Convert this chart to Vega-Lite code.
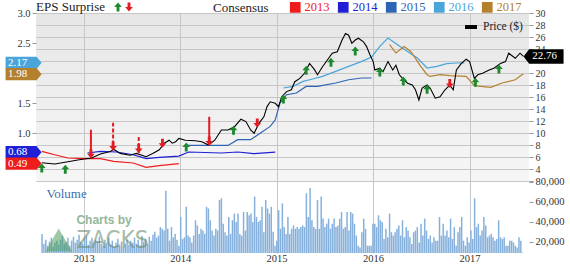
{
  "$schema": "https://vega.github.io/schema/vega-lite/v6.json",
  "width": 493,
  "height": 240,
  "autosize": {"type": "none"},
  "padding": {"left": 36, "top": 13, "right": 41, "bottom": 11},
  "background": "#ffffff",
  "view": {"stroke": null, "fill": {"gradient": "linear", "x1": 0, "y1": 0, "x2": 0, "y2": 1, "stops": [{"offset": 0, "color": "#e6e6e6"}, {"offset": 0.704, "color": "#f6f6f6"}, {"offset": 0.706, "color": "#ffffff"}, {"offset": 1, "color": "#ffffff"}]}},
  "config": {
    "font": "Liberation Serif",
    "axis": {"labelFont": "Liberation Serif", "labelFontSize": 10.5, "labelColor": "#333333", "tickColor": "#999999", "domain": false, "gridColor": "#c6c6c6", "titleFont": "Liberation Serif", "labelOverlap": false, "labelBound": false},
    "legend": {"labelFont": "Liberation Serif", "titleFont": "Liberation Serif", "titleFontWeight": "normal", "padding": 0}
  },
  "datasets": {
    "price": [
      {"date": "2012-07-26", "price": 5.05}, {"date": "2012-09-13", "price": 4.83}, {"date": "2012-11-02", "price": 5.2}, {"date": "2012-12-09", "price": 5.5},
      {"date": "2013-01-03", "price": 5.67}, {"date": "2013-01-28", "price": 5.8}, {"date": "2013-03-05", "price": 6.5}, {"date": "2013-04-11", "price": 6.9},
      {"date": "2013-04-24", "price": 7.3}, {"date": "2013-05-19", "price": 6.6}, {"date": "2013-06-25", "price": 6.3}, {"date": "2013-07-19", "price": 6.6},
      {"date": "2013-08-25", "price": 6.05}, {"date": "2013-09-19", "price": 6.6}, {"date": "2013-10-14", "price": 7.2}, {"date": "2013-11-02", "price": 8.3},
      {"date": "2013-11-20", "price": 8.8}, {"date": "2013-12-02", "price": 8.3}, {"date": "2013-12-15", "price": 8.55}, {"date": "2013-12-27", "price": 9.1},
      {"date": "2014-01-21", "price": 8.8}, {"date": "2014-02-27", "price": 8.7}, {"date": "2014-03-24", "price": 8.55}, {"date": "2014-04-18", "price": 8.0},
      {"date": "2014-05-12", "price": 8.8}, {"date": "2014-06-06", "price": 10.5}, {"date": "2014-07-01", "price": 10.5}, {"date": "2014-07-26", "price": 11.05},
      {"date": "2014-08-19", "price": 12.3}, {"date": "2014-09-07", "price": 11.9}, {"date": "2014-09-25", "price": 10.5}, {"date": "2014-10-08", "price": 9.95},
      {"date": "2014-10-26", "price": 11.6}, {"date": "2014-11-14", "price": 12.7}, {"date": "2014-11-26", "price": 14.4}, {"date": "2014-12-08", "price": 15.2},
      {"date": "2014-12-27", "price": 14.95}, {"date": "2015-01-08", "price": 14.4}, {"date": "2015-01-21", "price": 16.05}, {"date": "2015-02-08", "price": 16.9},
      {"date": "2015-02-26", "price": 17.2}, {"date": "2015-03-11", "price": 18.55}, {"date": "2015-03-30", "price": 19.1}, {"date": "2015-04-17", "price": 19.95},
      {"date": "2015-05-06", "price": 21.6}, {"date": "2015-05-24", "price": 20.6}, {"date": "2015-06-05", "price": 19.7}, {"date": "2015-06-24", "price": 21.05},
      {"date": "2015-07-13", "price": 22.2}, {"date": "2015-07-31", "price": 23.3}, {"date": "2015-08-19", "price": 23.55}, {"date": "2015-09-06", "price": 25.5},
      {"date": "2015-09-19", "price": 26.6}, {"date": "2015-10-01", "price": 26.3}, {"date": "2015-10-13", "price": 24.95}, {"date": "2015-10-26", "price": 25.5},
      {"date": "2015-11-07", "price": 25.8}, {"date": "2015-11-26", "price": 25.2}, {"date": "2015-12-08", "price": 24.4}, {"date": "2015-12-21", "price": 23.0},
      {"date": "2016-01-02", "price": 21.9}, {"date": "2016-01-08", "price": 20.5}, {"date": "2016-01-27", "price": 20.8}, {"date": "2016-02-08", "price": 20.2},
      {"date": "2016-02-27", "price": 21.9}, {"date": "2016-03-16", "price": 20.5}, {"date": "2016-03-28", "price": 21.3}, {"date": "2016-04-10", "price": 19.7},
      {"date": "2016-04-22", "price": 19.1}, {"date": "2016-05-11", "price": 18.3}, {"date": "2016-05-29", "price": 18.0}, {"date": "2016-06-10", "price": 17.2},
      {"date": "2016-06-23", "price": 15.5}, {"date": "2016-07-05", "price": 17.5}, {"date": "2016-07-24", "price": 18.0}, {"date": "2016-08-05", "price": 17.45},
      {"date": "2016-08-24", "price": 15.8}, {"date": "2016-09-11", "price": 16.05}, {"date": "2016-09-30", "price": 17.2}, {"date": "2016-10-18", "price": 18.0},
      {"date": "2016-10-31", "price": 17.2}, {"date": "2016-11-12", "price": 20.5}, {"date": "2016-12-01", "price": 21.6}, {"date": "2016-12-19", "price": 22.3},
      {"date": "2017-01-01", "price": 21.9}, {"date": "2017-01-19", "price": 19.1}, {"date": "2017-02-01", "price": 19.7}, {"date": "2017-02-19", "price": 19.95},
      {"date": "2017-03-16", "price": 20.5}, {"date": "2017-04-03", "price": 20.8}, {"date": "2017-04-28", "price": 21.6}, {"date": "2017-05-17", "price": 21.9},
      {"date": "2017-05-29", "price": 23.3}, {"date": "2017-06-23", "price": 22.45}, {"date": "2017-07-11", "price": 23.3}, {"date": "2017-07-24", "price": 22.76}
    ],
    "lastprice": [{"price": 22.76}],
    "consensus": [
      {"series": "2013", "date": "2012-07-26", "eps": 0.693}, {"series": "2013", "date": "2012-09-13", "eps": 0.638}, {"series": "2013", "date": "2012-11-02", "eps": 0.583},
      {"series": "2013", "date": "2013-01-03", "eps": 0.572}, {"series": "2013", "date": "2013-03-05", "eps": 0.572}, {"series": "2013", "date": "2013-04-24", "eps": 0.527},
      {"series": "2013", "date": "2013-07-07", "eps": 0.5}, {"series": "2013", "date": "2013-08-25", "eps": 0.427}, {"series": "2013", "date": "2013-10-14", "eps": 0.455},
      {"series": "2013", "date": "2013-12-27", "eps": 0.49},
      {"series": "2014", "date": "2013-01-15", "eps": 0.667}, {"series": "2014", "date": "2013-03-05", "eps": 0.693}, {"series": "2014", "date": "2013-05-06", "eps": 0.683},
      {"series": "2014", "date": "2013-07-07", "eps": 0.638}, {"series": "2014", "date": "2013-08-25", "eps": 0.572}, {"series": "2014", "date": "2013-10-14", "eps": 0.593},
      {"series": "2014", "date": "2013-12-27", "eps": 0.615}, {"series": "2014", "date": "2014-02-02", "eps": 0.683}, {"series": "2014", "date": "2014-06-06", "eps": 0.667},
      {"series": "2014", "date": "2014-08-07", "eps": 0.683}, {"series": "2014", "date": "2014-10-07", "eps": 0.655}, {"series": "2014", "date": "2014-12-27", "eps": 0.68},
      {"series": "2015", "date": "2014-01-21", "eps": 0.793}, {"series": "2015", "date": "2014-07-01", "eps": 0.793}, {"series": "2015", "date": "2014-08-07", "eps": 0.888},
      {"series": "2015", "date": "2014-09-25", "eps": 0.888}, {"series": "2015", "date": "2014-11-01", "eps": 1.0}, {"series": "2015", "date": "2014-12-08", "eps": 1.11},
      {"series": "2015", "date": "2014-12-27", "eps": 1.22}, {"series": "2015", "date": "2015-01-14", "eps": 1.5}, {"series": "2015", "date": "2015-02-08", "eps": 1.638},
      {"series": "2015", "date": "2015-03-17", "eps": 1.667}, {"series": "2015", "date": "2015-04-23", "eps": 1.777}, {"series": "2015", "date": "2015-06-05", "eps": 1.777},
      {"series": "2015", "date": "2015-08-13", "eps": 1.833}, {"series": "2015", "date": "2015-10-01", "eps": 1.888}, {"series": "2015", "date": "2015-11-20", "eps": 1.917},
      {"series": "2015", "date": "2015-12-27", "eps": 1.917},
      {"series": "2016", "date": "2015-01-27", "eps": 1.75}, {"series": "2016", "date": "2015-03-05", "eps": 1.777}, {"series": "2016", "date": "2015-04-11", "eps": 1.86},
      {"series": "2016", "date": "2015-05-18", "eps": 1.9}, {"series": "2016", "date": "2015-06-24", "eps": 1.943}, {"series": "2016", "date": "2015-08-13", "eps": 2.027},
      {"series": "2016", "date": "2015-10-01", "eps": 2.11}, {"series": "2016", "date": "2015-11-20", "eps": 2.193}, {"series": "2016", "date": "2015-12-27", "eps": 2.267},
      {"series": "2016", "date": "2016-01-27", "eps": 2.443}, {"series": "2016", "date": "2016-02-27", "eps": 2.583}, {"series": "2016", "date": "2016-04-03", "eps": 2.472},
      {"series": "2016", "date": "2016-05-11", "eps": 2.36}, {"series": "2016", "date": "2016-06-17", "eps": 2.25}, {"series": "2016", "date": "2016-07-12", "eps": 2.138},
      {"series": "2016", "date": "2016-07-24", "eps": 2.083}, {"series": "2016", "date": "2016-08-30", "eps": 2.11}, {"series": "2016", "date": "2016-10-06", "eps": 2.155},
      {"series": "2016", "date": "2016-11-12", "eps": 2.167}, {"series": "2016", "date": "2016-12-12", "eps": 2.17},
      {"series": "2017", "date": "2016-03-04", "eps": 2.472}, {"series": "2017", "date": "2016-03-28", "eps": 2.333}, {"series": "2017", "date": "2016-04-28", "eps": 2.443},
      {"series": "2017", "date": "2016-05-23", "eps": 2.36}, {"series": "2017", "date": "2016-06-30", "eps": 2.11}, {"series": "2017", "date": "2016-07-24", "eps": 1.972},
      {"series": "2017", "date": "2016-08-05", "eps": 1.943}, {"series": "2017", "date": "2016-09-11", "eps": 1.972}, {"series": "2017", "date": "2016-10-18", "eps": 1.955},
      {"series": "2017", "date": "2016-12-19", "eps": 1.943}, {"series": "2017", "date": "2017-01-19", "eps": 1.788}, {"series": "2017", "date": "2017-03-22", "eps": 1.76},
      {"series": "2017", "date": "2017-05-04", "eps": 1.833}, {"series": "2017", "date": "2017-06-23", "eps": 1.888}, {"series": "2017", "date": "2017-07-18", "eps": 1.972},
      {"series": "2017", "date": "2017-07-24", "eps": 1.98}
    ],
    "tags": [
      {"series": "2016", "eps": 2.17}, {"series": "2017", "eps": 1.98}, {"series": "2014", "eps": 0.68}, {"series": "2013", "eps": 0.49}
    ],
    "arrows": [
      {"date": "2012-07-26", "price": 4.9, "result": "beat"}, {"date": "2012-10-23", "price": 4.7, "result": "beat"},
      {"date": "2013-01-28", "price": 5.8, "result": "miss", "top": 10.55, "stem": "solid"},
      {"date": "2013-04-22", "price": 7.1, "result": "miss", "top": 11.7, "stem": "dashed"},
      {"date": "2013-07-28", "price": 6.65, "result": "miss", "top": 9.55, "stem": "dashed"},
      {"date": "2013-10-26", "price": 7.55, "result": "miss"},
      {"date": "2014-01-24", "price": 8.4, "result": "beat"},
      {"date": "2014-04-21", "price": 7.9, "result": "miss", "top": 12.7, "stem": "solid"},
      {"date": "2014-07-22", "price": 11.2, "result": "beat"},
      {"date": "2014-10-20", "price": 10.9, "result": "miss"},
      {"date": "2015-01-27", "price": 16.4, "result": "beat"}, {"date": "2015-04-23", "price": 21.2, "result": "beat"},
      {"date": "2015-07-26", "price": 22.55, "result": "beat"}, {"date": "2015-10-26", "price": 24.4, "result": "beat"},
      {"date": "2016-01-27", "price": 20.9, "result": "beat"}, {"date": "2016-04-25", "price": 19.4, "result": "beat"},
      {"date": "2016-07-24", "price": 18.05, "result": "beat"}, {"date": "2016-10-18", "price": 17.5, "result": "miss"},
      {"date": "2017-01-23", "price": 19.2, "result": "beat"}, {"date": "2017-04-22", "price": 21.4, "result": "beat"}
    ],
    "volume": [
      {"date": "2012-07-27", "volume": 27800}, {"date": "2012-08-03", "volume": 18000}, {"date": "2012-08-10", "volume": 22000}, {"date": "2012-08-17", "volume": 16000}, {"date": "2012-08-24", "volume": 20000},
      {"date": "2012-08-31", "volume": 24000}, {"date": "2012-09-07", "volume": 15000}, {"date": "2012-09-14", "volume": 19000}, {"date": "2012-09-21", "volume": 21000}, {"date": "2012-09-28", "volume": 17000},
      {"date": "2012-10-05", "volume": 22000}, {"date": "2012-10-12", "volume": 26000}, {"date": "2012-10-19", "volume": 18000}, {"date": "2012-10-26", "volume": 20000}, {"date": "2012-11-02", "volume": 24000},
      {"date": "2012-11-09", "volume": 16000}, {"date": "2012-11-16", "volume": 21000}, {"date": "2012-11-23", "volume": 25000}, {"date": "2012-11-30", "volume": 19000}, {"date": "2012-12-07", "volume": 22000},
      {"date": "2012-12-14", "volume": 27000}, {"date": "2012-12-21", "volume": 20000}, {"date": "2012-12-28", "volume": 18000}, {"date": "2013-01-04", "volume": 23000}, {"date": "2013-01-11", "volume": 26000},
      {"date": "2013-01-18", "volume": 17000}, {"date": "2013-01-25", "volume": 21000}, {"date": "2013-02-01", "volume": 24000}, {"date": "2013-02-08", "volume": 19000}, {"date": "2013-02-15", "volume": 22000},
      {"date": "2013-02-22", "volume": 20000}, {"date": "2013-03-01", "volume": 25000}, {"date": "2013-03-08", "volume": 18000}, {"date": "2013-03-15", "volume": 16000}, {"date": "2013-03-22", "volume": 22000},
      {"date": "2013-03-29", "volume": 19000}, {"date": "2013-04-05", "volume": 24000}, {"date": "2013-04-12", "volume": 17000}, {"date": "2013-04-19", "volume": 21000}, {"date": "2013-04-26", "volume": 15000},
      {"date": "2013-05-03", "volume": 19000}, {"date": "2013-05-10", "volume": 23000}, {"date": "2013-05-17", "volume": 16000}, {"date": "2013-05-24", "volume": 20000}, {"date": "2013-05-31", "volume": 14000},
      {"date": "2013-06-07", "volume": 18000}, {"date": "2013-06-14", "volume": 22000}, {"date": "2013-06-21", "volume": 17000}, {"date": "2013-06-28", "volume": 21000}, {"date": "2013-07-05", "volume": 19000},
      {"date": "2013-07-12", "volume": 24000}, {"date": "2013-07-19", "volume": 18000}, {"date": "2013-07-26", "volume": 22000}, {"date": "2013-08-02", "volume": 16000}, {"date": "2013-08-09", "volume": 26000},
      {"date": "2013-08-16", "volume": 20000}, {"date": "2013-08-23", "volume": 23000}, {"date": "2013-08-30", "volume": 18000}, {"date": "2013-09-06", "volume": 25000}, {"date": "2013-09-13", "volume": 21000},
      {"date": "2013-09-20", "volume": 27000}, {"date": "2013-09-27", "volume": 30000}, {"date": "2013-10-04", "volume": 24000}, {"date": "2013-10-11", "volume": 26100}, {"date": "2013-10-18", "volume": 34600},
      {"date": "2013-10-25", "volume": 32900}, {"date": "2013-11-01", "volume": 31200}, {"date": "2013-11-08", "volume": 70900}, {"date": "2013-11-15", "volume": 32900}, {"date": "2013-11-22", "volume": 21000},
      {"date": "2013-11-29", "volume": 34600}, {"date": "2013-12-06", "volume": 24400}, {"date": "2013-12-13", "volume": 27800}, {"date": "2013-12-20", "volume": 22000}, {"date": "2013-12-27", "volume": 16000},
      {"date": "2014-01-03", "volume": 44700}, {"date": "2014-01-10", "volume": 22700}, {"date": "2014-01-17", "volume": 24400}, {"date": "2014-01-24", "volume": 54900}, {"date": "2014-01-31", "volume": 26100},
      {"date": "2014-02-07", "volume": 24400}, {"date": "2014-02-14", "volume": 19300}, {"date": "2014-02-21", "volume": 26100}, {"date": "2014-02-28", "volume": 41400}, {"date": "2014-03-07", "volume": 36300},
      {"date": "2014-03-14", "volume": 27800}, {"date": "2014-03-21", "volume": 32900}, {"date": "2014-03-28", "volume": 31200}, {"date": "2014-04-04", "volume": 27800}, {"date": "2014-04-11", "volume": 54900},
      {"date": "2014-04-18", "volume": 53200}, {"date": "2014-04-25", "volume": 41400}, {"date": "2014-05-02", "volume": 31200}, {"date": "2014-05-09", "volume": 26100}, {"date": "2014-05-16", "volume": 32900},
      {"date": "2014-05-23", "volume": 31200}, {"date": "2014-05-30", "volume": 61700}, {"date": "2014-06-06", "volume": 63400}, {"date": "2014-06-13", "volume": 38000}, {"date": "2014-06-20", "volume": 29500},
      {"date": "2014-06-27", "volume": 26100}, {"date": "2014-07-04", "volume": 44700}, {"date": "2014-07-11", "volume": 27800}, {"date": "2014-07-18", "volume": 41400}, {"date": "2014-07-25", "volume": 48100},
      {"date": "2014-08-01", "volume": 39700}, {"date": "2014-08-08", "volume": 48100}, {"date": "2014-08-15", "volume": 27800}, {"date": "2014-08-22", "volume": 26100}, {"date": "2014-08-29", "volume": 49800},
      {"date": "2014-09-05", "volume": 31200}, {"date": "2014-09-12", "volume": 49800}, {"date": "2014-09-19", "volume": 46400}, {"date": "2014-09-26", "volume": 48100}, {"date": "2014-10-03", "volume": 39700},
      {"date": "2014-10-10", "volume": 65100}, {"date": "2014-10-17", "volume": 44700}, {"date": "2014-10-24", "volume": 39700}, {"date": "2014-10-31", "volume": 41400}, {"date": "2014-11-07", "volume": 54900},
      {"date": "2014-11-14", "volume": 29500}, {"date": "2014-11-21", "volume": 61700}, {"date": "2014-11-28", "volume": 53200}, {"date": "2014-12-05", "volume": 48100}, {"date": "2014-12-12", "volume": 54900},
      {"date": "2014-12-19", "volume": 30000}, {"date": "2014-12-26", "volume": 16000}, {"date": "2015-01-02", "volume": 21000}, {"date": "2015-01-09", "volume": 51500}, {"date": "2015-01-16", "volume": 32900},
      {"date": "2015-01-23", "volume": 58300}, {"date": "2015-01-30", "volume": 34600}, {"date": "2015-02-06", "volume": 27800}, {"date": "2015-02-13", "volume": 44700}, {"date": "2015-02-20", "volume": 27800},
      {"date": "2015-02-27", "volume": 32900}, {"date": "2015-03-06", "volume": 36300}, {"date": "2015-03-13", "volume": 32900}, {"date": "2015-03-20", "volume": 34600}, {"date": "2015-03-27", "volume": 32900},
      {"date": "2015-04-03", "volume": 34600}, {"date": "2015-04-10", "volume": 36300}, {"date": "2015-04-17", "volume": 34600}, {"date": "2015-04-24", "volume": 68500}, {"date": "2015-05-01", "volume": 44700},
      {"date": "2015-05-08", "volume": 73600}, {"date": "2015-05-15", "volume": 41400}, {"date": "2015-05-22", "volume": 34600}, {"date": "2015-05-29", "volume": 32900}, {"date": "2015-06-05", "volume": 61700},
      {"date": "2015-06-12", "volume": 32900}, {"date": "2015-06-19", "volume": 65100}, {"date": "2015-06-26", "volume": 43100}, {"date": "2015-07-03", "volume": 34600}, {"date": "2015-07-10", "volume": 38000},
      {"date": "2015-07-17", "volume": 43100}, {"date": "2015-07-24", "volume": 32900}, {"date": "2015-07-31", "volume": 38000}, {"date": "2015-08-07", "volume": 43100}, {"date": "2015-08-14", "volume": 34600},
      {"date": "2015-08-21", "volume": 36300}, {"date": "2015-08-28", "volume": 43100}, {"date": "2015-09-04", "volume": 49800}, {"date": "2015-09-11", "volume": 32900}, {"date": "2015-09-18", "volume": 34600},
      {"date": "2015-09-25", "volume": 49800}, {"date": "2015-10-02", "volume": 31200}, {"date": "2015-10-09", "volume": 49800}, {"date": "2015-10-16", "volume": 48100}, {"date": "2015-10-23", "volume": 38000},
      {"date": "2015-10-30", "volume": 26100}, {"date": "2015-11-06", "volume": 16000}, {"date": "2015-11-13", "volume": 14200}, {"date": "2015-11-20", "volume": 29500}, {"date": "2015-11-27", "volume": 43100},
      {"date": "2015-12-04", "volume": 32900}, {"date": "2015-12-11", "volume": 16000}, {"date": "2015-12-18", "volume": 16000}, {"date": "2015-12-25", "volume": 16000}, {"date": "2016-01-01", "volume": 38000},
      {"date": "2016-01-08", "volume": 38000}, {"date": "2016-01-15", "volume": 34600}, {"date": "2016-01-22", "volume": 46400}, {"date": "2016-01-29", "volume": 41400}, {"date": "2016-02-05", "volume": 39700},
      {"date": "2016-02-12", "volume": 22700}, {"date": "2016-02-19", "volume": 32900}, {"date": "2016-02-26", "volume": 24400}, {"date": "2016-03-04", "volume": 48100}, {"date": "2016-03-11", "volume": 29500},
      {"date": "2016-03-18", "volume": 26100}, {"date": "2016-03-25", "volume": 29500}, {"date": "2016-04-01", "volume": 32900}, {"date": "2016-04-08", "volume": 36300}, {"date": "2016-04-15", "volume": 26100},
      {"date": "2016-04-22", "volume": 41400}, {"date": "2016-04-29", "volume": 24400}, {"date": "2016-05-06", "volume": 34600}, {"date": "2016-05-13", "volume": 31200}, {"date": "2016-05-20", "volume": 24400},
      {"date": "2016-05-27", "volume": 17600}, {"date": "2016-06-03", "volume": 29500}, {"date": "2016-06-10", "volume": 31200}, {"date": "2016-06-17", "volume": 34600}, {"date": "2016-06-24", "volume": 19300},
      {"date": "2016-07-01", "volume": 38000}, {"date": "2016-07-08", "volume": 26100}, {"date": "2016-07-15", "volume": 43100}, {"date": "2016-07-22", "volume": 31200}, {"date": "2016-07-29", "volume": 22700},
      {"date": "2016-08-05", "volume": 26100}, {"date": "2016-08-12", "volume": 19300}, {"date": "2016-08-19", "volume": 24400}, {"date": "2016-08-26", "volume": 21000}, {"date": "2016-09-02", "volume": 21000},
      {"date": "2016-09-09", "volume": 44700}, {"date": "2016-09-16", "volume": 26100}, {"date": "2016-09-23", "volume": 38000}, {"date": "2016-09-30", "volume": 26100}, {"date": "2016-10-07", "volume": 31200},
      {"date": "2016-10-14", "volume": 24400}, {"date": "2016-10-21", "volume": 43100}, {"date": "2016-10-28", "volume": 22700}, {"date": "2016-11-04", "volume": 34600}, {"date": "2016-11-11", "volume": 16000},
      {"date": "2016-11-18", "volume": 29500}, {"date": "2016-11-25", "volume": 34600}, {"date": "2016-12-02", "volume": 44700}, {"date": "2016-12-09", "volume": 21000}, {"date": "2016-12-16", "volume": 16000},
      {"date": "2016-12-23", "volume": 24400}, {"date": "2016-12-30", "volume": 19300}, {"date": "2017-01-06", "volume": 31200}, {"date": "2017-01-13", "volume": 22700}, {"date": "2017-01-20", "volume": 63400},
      {"date": "2017-01-27", "volume": 34600}, {"date": "2017-02-03", "volume": 38000}, {"date": "2017-02-10", "volume": 26100}, {"date": "2017-02-17", "volume": 31200}, {"date": "2017-02-24", "volume": 44700},
      {"date": "2017-03-03", "volume": 36300}, {"date": "2017-03-10", "volume": 24400}, {"date": "2017-03-17", "volume": 26100}, {"date": "2017-03-24", "volume": 27800}, {"date": "2017-03-31", "volume": 24400},
      {"date": "2017-04-07", "volume": 21000}, {"date": "2017-04-14", "volume": 22700}, {"date": "2017-04-21", "volume": 41400}, {"date": "2017-04-28", "volume": 24400}, {"date": "2017-05-05", "volume": 22700},
      {"date": "2017-05-12", "volume": 24400}, {"date": "2017-05-19", "volume": 16000}, {"date": "2017-05-26", "volume": 16000}, {"date": "2017-06-02", "volume": 21000}, {"date": "2017-06-09", "volume": 21000},
      {"date": "2017-06-16", "volume": 19300}, {"date": "2017-06-23", "volume": 16000}, {"date": "2017-06-30", "volume": 14200}, {"date": "2017-07-07", "volume": 24400}, {"date": "2017-07-14", "volume": 21000},
      {"date": "2017-07-21", "volume": 9100}
    ]
  },
  "layer": [
    {
      "layer": [
        {
          "data": {"name": "volume"},
          "mark": {"type": "bar", "size": 1.5, "color": "#86b1dc", "clip": true},
          "encoding": {
            "x": {
              "field": "date", "type": "temporal",
              "scale": {"type": "utc", "domain": [{"year": 2012, "month": 7, "date": 23, "utc": true}, {"year": 2017, "month": 7, "date": 26, "utc": true}], "nice": false},
              "axis": {"title": null, "format": "%Y", "tickCount": {"interval": "year", "step": 1}, "grid": true, "gridColor": "#c6c6c6", "ticks": false, "labelPadding": 0, "labelAlign": "center", "labelFlush": false, "labelFontSize": 10.5}
            },
            "y": {"field": "volume", "type": "quantitative", "scale": {"domain": [8700, 248700], "nice": false, "zero": false},
              "axis": {"orient": "right", "values": [20000, 40000, 60000, 80000], "format": ",d", "grid": false, "tickSize": 4, "labelPadding": 2, "labelOverlap": false,
                "title": "Volume", "titleAngle": 0, "titleX": -483, "titleY": 180, "titleAlign": "left", "titleBaseline": "middle", "titleColor": "#3b6fb2", "titleFontSize": 13, "titleFontWeight": "normal"}}
          }
        },
        {
          "data": {"values": [{}]},
          "mark": {"type": "point", "shape": "triangle-up", "filled": true, "color": "#4f9d5a", "opacity": 0.55, "size": 700},
          "encoding": {"x": {"datum": {"year": 2012, "month": 9, "date": 28, "utc": true}, "type": "temporal"}, "y": {"datum": 21700, "type": "quantitative"}}
        },
        {
          "data": {"values": [{}]},
          "mark": {"type": "text", "text": "Charts by", "font": "Liberation Sans", "fontWeight": "bold", "fontSize": 12, "align": "left", "baseline": "middle", "color": "#6e9f77", "opacity": 0.75},
          "encoding": {"x": {"datum": {"year": 2012, "month": 12, "date": 4, "utc": true}, "type": "temporal"}, "y": {"datum": 42000, "type": "quantitative"}}
        },
        {
          "data": {"values": [{}]},
          "mark": {"type": "text", "text": "ZACKS", "font": "DejaVu Sans Condensed", "fontSize": 24, "align": "left", "baseline": "middle", "color": "#6d8f73", "opacity": 0.6},
          "encoding": {"x": {"datum": {"year": 2012, "month": 12, "date": 4, "utc": true}, "type": "temporal"}, "y": {"datum": 21000, "type": "quantitative"}}
        }
      ]
    },
    {
      "layer": [
        {
          "data": {"name": "consensus"},
          "mark": {"type": "line", "strokeWidth": 1.2},
          "encoding": {
            "x": {"field": "date", "type": "temporal"},
            "y": {"field": "eps", "type": "quantitative", "scale": {"domain": [-1, 3], "nice": false, "zero": false},
              "axis": {"orient": "left", "values": [1.0, 1.5, 2.5, 3.0], "format": ".1f", "grid": false, "tickSize": 4, "labelPadding": 2, "labelOverlap": false, "title": null}},
            "color": {"field": "series", "type": "nominal",
              "scale": {"domain": ["2013", "2014", "2015", "2016", "2017"], "range": ["#ee1c1c", "#1f1fd6", "#2e64b4", "#4aa5db", "#b5802e"]},
              "legend": {"title": "Consensus", "orient": "none", "legendX": 177, "legendY": -12, "direction": "horizontal", "columns": 5, "gridAlign": "all", "titleOrient": "left", "titlePadding": 20,
                "titleFontSize": 13, "titleColor": "#222222", "labelFontSize": 12.5, "symbolType": "square", "symbolSize": 85, "labelOffset": 3, "columnPadding": 5,
                "encode": {"symbols": {"update": {"fill": {"scale": "color", "field": "value"}, "stroke": {"value": "transparent"}, "shape": {"value": "square"}}},
                           "labels": {"update": {"fill": {"scale": "color", "field": "value"}}}}}}
          }
        },
        {
          "data": {"name": "tags"},
          "mark": {"type": "point", "shape": "M-1,-0.34L0.72,-0.34L1,0L0.72,0.34L-1,0.34Z", "size": 1296, "filled": true, "opacity": 1, "strokeWidth": 0},
          "encoding": {
            "x": {"datum": {"year": 2012, "month": 5, "date": 18, "utc": true}, "type": "temporal"},
            "y": {"field": "eps", "type": "quantitative"},
            "color": {"field": "series", "type": "nominal"}
          }
        },
        {
          "data": {"name": "tags"},
          "mark": {"type": "text", "color": "#ffffff", "fontSize": 11, "dx": -6, "align": "center", "baseline": "middle"},
          "encoding": {
            "x": {"datum": {"year": 2012, "month": 5, "date": 18, "utc": true}, "type": "temporal"},
            "y": {"field": "eps", "type": "quantitative"},
            "text": {"field": "eps", "type": "quantitative", "format": ".2f"}
          }
        }
      ]
    },
    {
      "encoding": {
        "y": {"field": "price", "type": "quantitative", "scale": {"domain": [-10, 30], "nice": false, "zero": false},
          "axis": {"orient": "right", "values": [2, 4, 6, 8, 10, 12, 14, 16, 18, 20, 22, 24, 26, 28, 30], "labelExpr": "(datum.value == 2 || datum.value == 22) ? '' : datum.label", "labelOverlap": false, "grid": true, "gridColor": "#c6c6c6", "tickSize": 4, "labelPadding": 2, "labelFontSize": 10, "title": null}}
      },
      "layer": [
        {
          "data": {"name": "price"},
          "mark": {"type": "line", "strokeWidth": 1.1},
          "encoding": {
            "x": {"field": "date", "type": "temporal"},
            "stroke": {"datum": "Price ($)", "type": "nominal", "scale": {"range": ["#000000"]},
              "legend": {"title": null, "orient": "none", "legendX": 427, "legendY": 6, "symbolType": "stroke", "symbolStrokeWidth": 4, "symbolSize": 144, "labelFontSize": 11.5, "labelColor": "#222222", "labelOffset": 4}}
          }
        },
        {
          "data": {"name": "arrows"},
          "transform": [{"filter": "isValid(datum.top)"}],
          "mark": {"type": "rule", "strokeWidth": 2, "color": "#e31b23"},
          "encoding": {
            "x": {"field": "date", "type": "temporal"},
            "y2": {"field": "top"},
            "strokeDash": {"field": "stem", "type": "nominal", "scale": {"domain": ["solid", "dashed"], "range": [[1, 0], [4, 2]]}, "legend": null}
          }
        },
        {
          "data": {"name": "arrows"},
          "transform": [{"filter": "datum.result === 'beat'"}],
          "mark": {"type": "point", "filled": true, "size": 81, "opacity": 1, "strokeWidth": 0, "yOffset": 4.5},
          "encoding": {
            "x": {"field": "date", "type": "temporal"},
            "shape": {"field": "result", "type": "nominal", "scale": {"domain": ["beat", "miss"], "range": ["M0,-1L0.85,0L0.32,0L0.32,1L-0.32,1L-0.32,0L-0.85,0Z", "M0,1L0.85,0L0.32,0L0.32,-1L-0.32,-1L-0.32,0L-0.85,0Z"]},
              "legend": {"title": "EPS Surprise", "orient": "none", "legendX": 0, "legendY": -11, "direction": "horizontal", "titleOrient": "left", "titlePadding": 8,
                "titleFontSize": 13, "titleColor": "#222222", "labelExpr": "''", "labelOffset": 0, "columnPadding": 1, "symbolSize": 81, "symbolStrokeWidth": 0}},
            "fill": {"field": "result", "type": "nominal", "scale": {"domain": ["beat", "miss"], "range": ["#1e8a2e", "#e31b23"]},
              "legend": {"title": "EPS Surprise", "orient": "none", "legendX": 0, "legendY": -11, "direction": "horizontal", "titleOrient": "left", "titlePadding": 8,
                "titleFontSize": 13, "titleColor": "#222222", "labelExpr": "''", "labelOffset": 0, "columnPadding": 1, "symbolSize": 81, "symbolStrokeWidth": 0}}
          }
        },
        {
          "data": {"name": "arrows"},
          "transform": [{"filter": "datum.result === 'miss'"}],
          "mark": {"type": "point", "filled": true, "size": 81, "opacity": 1, "strokeWidth": 0, "yOffset": -4.5},
          "encoding": {
            "x": {"field": "date", "type": "temporal"},
            "shape": {"field": "result", "type": "nominal"},
            "fill": {"field": "result", "type": "nominal"}
          }
        },
        {
          "data": {"name": "lastprice"},
          "mark": {"type": "point", "shape": "M-1,0L-0.72,-0.36L1,-0.36L1,0.36L-0.72,0.36Z", "size": 1600, "filled": true, "color": "#000000", "opacity": 1, "strokeWidth": 0},
          "encoding": {
            "x": {"datum": {"year": 2017, "month": 10, "date": 8, "utc": true}, "type": "temporal"}
          }
        },
        {
          "data": {"name": "lastprice"},
          "mark": {"type": "text", "color": "#ffffff", "fontSize": 11, "dx": 1, "align": "center", "baseline": "middle"},
          "encoding": {
            "x": {"datum": {"year": 2017, "month": 10, "date": 8, "utc": true}, "type": "temporal"},
            "text": {"field": "price", "type": "quantitative", "format": ".2f"}
          }
        }
      ]
    }
  ],
  "resolve": {"scale": {"y": "independent"}}
}
